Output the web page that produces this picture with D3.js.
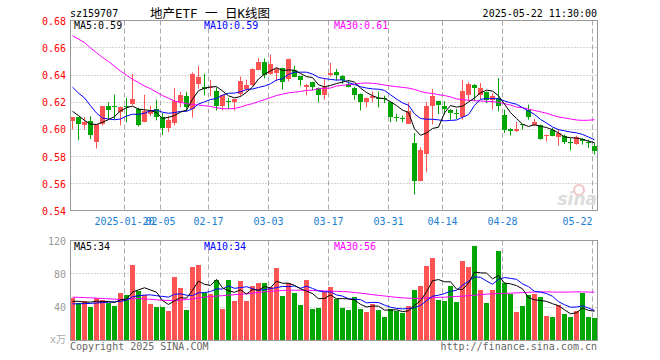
<!DOCTYPE html>
<html>
<head>
<meta charset="utf-8">
<script src="https://cdn.jsdelivr.net/npm/d3@7"></script>
<style>
body { margin: 0; background: #fff; }
svg { display: block; }
text { font-family: "DejaVu Sans Mono", monospace; font-size: 10px; }
</style>
</head>
<body>
<svg id="chart"></svg>
<script>
// trading days shown on the chart
let dates = [
  "01-07","01-08","01-09","01-10","01-13","01-14","01-15","01-16","01-17","01-20",
  "01-21","01-22","01-23","01-24","01-27","02-05","02-06","02-07","02-10","02-11",
  "02-12","02-13","02-14","02-17","02-18","02-19","02-20","02-21","02-24","02-25",
  "02-26","02-27","02-28","03-03","03-04","03-05","03-06","03-07","03-10","03-11",
  "03-12","03-13","03-14","03-17","03-18","03-19","03-20","03-21","03-24","03-25",
  "03-26","03-27","03-28","03-31","04-01","04-02","04-03","04-07","04-08","04-09",
  "04-10","04-11","04-14","04-15","04-16","04-17","04-18","04-21","04-22","04-23",
  "04-24","04-25","04-28","04-29","04-30","05-06","05-07","05-08","05-09","05-12",
  "05-13","05-14","05-15","05-16","05-19","05-20","05-21","05-22"
];

let open = [
  0.606,0.609,0.6035,0.606,0.5905,0.604,0.617,0.617,0.6126,0.617,
  0.6185,0.615,0.6058,0.6114,0.6153,0.609,0.6013,0.6045,0.6197,0.6249,
  0.615,0.6337,0.6312,0.6305,0.6285,0.6175,0.621,0.620,0.6263,0.6298,
  0.633,0.644,0.650,0.641,0.6418,0.6452,0.637,0.6435,0.6391,0.6312,
  0.6347,0.6307,0.6256,0.6398,0.642,0.6396,0.6334,0.6305,0.6263,0.620,
  0.6232,0.6235,0.6232,0.620,0.6092,0.6087,0.6043,0.590,0.5624,0.5822,
  0.6175,0.6207,0.617,0.6146,0.6119,0.6092,0.6256,0.633,0.6254,0.6276,
  0.6214,0.6232,0.611,0.6006,0.5989,0.6038,0.6146,0.6036,0.6031,0.5957,
  0.5994,0.5945,0.5955,0.5911,0.5896,0.593,0.5908,0.5881
];
let high = [
  0.609,0.609,0.609,0.6097,0.604,0.617,0.620,0.6256,0.617,0.6232,
  0.641,0.616,0.6256,0.6175,0.6219,0.6121,0.610,0.6305,0.6278,0.6278,
  0.642,0.6469,0.641,0.6366,0.631,0.6255,0.6232,0.6225,0.639,0.6366,
  0.645,0.6525,0.6523,0.6552,0.6455,0.6455,0.652,0.6469,0.6395,0.6335,
  0.635,0.631,0.6378,0.649,0.6445,0.640,0.636,0.6315,0.6265,0.6235,
  0.628,0.628,0.6249,0.6205,0.6114,0.6102,0.620,0.5974,0.5869,0.620,
  0.6298,0.621,0.6207,0.615,0.6151,0.6366,0.6347,0.6335,0.6342,0.628,
  0.6265,0.6378,0.6146,0.601,0.6055,0.6038,0.6183,0.6077,0.6035,0.5962,
  0.6011,0.6004,0.5962,0.5937,0.5955,0.5935,0.5925,0.590
];
let low = [
  0.600,0.592,0.600,0.593,0.586,0.603,0.6072,0.6077,0.603,0.6053,
  0.618,0.6023,0.6053,0.6097,0.6067,0.596,0.598,0.603,0.6165,0.6134,
  0.6087,0.630,0.6251,0.6244,0.614,0.614,0.6151,0.614,0.6244,0.6278,
  0.6322,0.6435,0.6376,0.6403,0.6356,0.6293,0.6354,0.6385,0.6322,0.6251,
  0.6288,0.620,0.6219,0.639,0.6361,0.6334,0.631,0.6219,0.614,0.6163,
  0.620,0.6163,0.6195,0.6053,0.6058,0.6053,0.604,0.5521,0.562,0.5685,
  0.6036,0.6114,0.611,0.6072,0.6077,0.6072,0.6212,0.6212,0.6219,0.6195,
  0.6146,0.6134,0.5974,0.5955,0.5981,0.5999,0.6072,0.6023,0.5925,0.5913,
  0.595,0.5881,0.5893,0.5847,0.5889,0.5889,0.5864,0.5815
];
let close = [
  0.609,0.604,0.6055,0.5957,0.6043,0.617,0.614,0.6165,0.6165,0.6163,
  0.6227,0.603,0.6138,0.6138,0.6092,0.601,0.6067,0.6212,0.6256,0.6168,
  0.641,0.6383,0.6298,0.631,0.6175,0.6251,0.6205,0.6222,0.6359,0.633,
  0.6447,0.650,0.640,0.6479,0.6447,0.6347,0.6518,0.639,0.6361,0.633,
  0.6312,0.6253,0.6312,0.6415,0.6398,0.6366,0.6312,0.6251,0.620,0.6232,
  0.6249,0.6228,0.6225,0.609,0.6087,0.6085,0.6138,0.5624,0.5852,0.6175,
  0.6249,0.6183,0.6153,0.6121,0.6116,0.6285,0.6337,0.6303,0.6305,0.6219,
  0.6249,0.617,0.5994,0.5989,0.6006,0.6034,0.609,0.6055,0.5933,0.596,
  0.5955,0.5974,0.5906,0.5903,0.5945,0.5913,0.5905,0.5845
];
// volume in 万 lots
let volume = [
  51.2,45.2,48,40.4,51.2,49.2,45.2,42,57.2,54.4,
  91.2,59.2,54.4,44,40.8,40.8,36,76.4,63.2,37.2,
  88.4,91.2,57.2,56.4,73.2,38.4,73.2,48,71.2,48,
  65.2,69.6,69.6,64,87.2,53.2,69.6,57.2,43.2,72.8,
  38.4,39.2,58.6,64.4,50,39.2,37.2,52.4,38,34.4,
  44.4,37.2,28.4,38.4,36,33.2,42,61.2,66,90,
  99.2,49.2,48,66,46.4,96,88.4,114,61.2,45.2,
  61.2,108,69.2,56.4,34.4,42,55.2,56.4,52,29.2,
  28,43.2,32,28,35.2,57.2,28.4,27.2
];

// averages at the left edge (their windows start before the first day shown)
let ma5Head = [0.6134, 0.6102, 0.6067, 0.604];
let ma10Head = [0.6312, 0.6268, 0.6232, 0.6175, 0.6121, 0.6084, 0.6077, 0.6072, 0.6077];
let ma30 = [
  0.669,0.6665,0.664,0.660,0.6565,0.653,0.650,0.6465,0.643,0.640,
  0.637,0.6345,0.632,0.630,0.6275,0.625,0.623,0.621,0.620,0.619,
  0.6185,0.618,0.6175,0.617,0.616,0.6153,0.6152,0.6155,0.6165,0.618,
  0.619,0.6205,0.622,0.6235,0.625,0.626,0.627,0.6275,0.628,0.6288,
  0.629,0.630,0.6302,0.6305,0.632,0.6325,0.633,0.6334,0.634,0.6342,
  0.634,0.6335,0.6327,0.632,0.6315,0.631,0.6305,0.6295,0.628,0.627,
  0.6265,0.6256,0.625,0.624,0.6225,0.622,0.6215,0.6212,0.621,0.6207,
  0.6205,0.620,0.619,0.618,0.6165,0.616,0.615,0.614,0.613,0.612,
  0.6105,0.6092,0.6085,0.6077,0.607,0.6067,0.6068,0.6072
];
let vma5Head = [47, 47, 46, 46];
let vma10Head = [44, 44, 44.3, 44.5, 45, 45.5, 46, 46.5, 47];
let vma30 = [
  52,51.8,51.5,51.2,50.8,50.3,50,49.6,49.2,49.5,
  50,50.4,50,49.4,48.8,48.4,48,48,48.6,49.2,
  50,51.2,52,52.8,53.2,53.8,54.4,55,55.5,56,
  56.8,57.6,58.4,59,59.6,60,60.2,60.4,60.4,60.2,
  60,59.8,59.5,59.2,59,58.8,58.4,57.6,56.8,56,
  55,54.2,53.4,52.6,51.8,51.2,50.8,50.4,50.6,51.2,
  51.5,51.8,52,52.4,52.8,53.2,53.8,54.4,55,55.6,
  56,56.4,56.6,56.8,57.2,57.5,57.8,58.2,58.4,58.4,
  58.2,58,58,58.2,58.4,58.3,58.1,58
];

let tickDates = ["01-20","02-05","02-17","03-03","03-17","03-31","04-14","04-28","05-22"];
let tickLabels = ["2025-01-20","02-05","02-17","03-03","03-17","03-31","04-14","04-28","05-22"];
let priceTicks = [0.68, 0.66, 0.64, 0.62, 0.60, 0.58, 0.56, 0.54];
let volTicks = [120, 80, 40];

let width = 660;
let height = 360;
let left = 70.5, right = 597.5;

let red = "#ff5454";
let green = "#00a600";
let gridColor = "#aaa";

let svg = d3.select("#chart").attr("width", width).attr("height", height);

let xScale = d3.scaleBand().domain(dates).range([69.5, 597.5]);
let cx = (d) => xScale(d) + 3;

let yScale = d3.scaleLinear().domain([0.54, 0.68]).range([211, 20.8]);
let vScale = d3.scaleLinear().domain([0, 120]).range([340.5, 240.5]);

let movingAvg = (arr, n, head) => arr.map((v, i) => {
    if (i < n - 1) return head[i];
    return d3.mean(arr.slice(i - n + 1, i + 1));
});

let ma5 = movingAvg(close, 5, ma5Head);
let ma10 = movingAvg(close, 10, ma10Head);
let vma5 = movingAvg(volume, 5, vma5Head);
let vma10 = movingAvg(volume, 10, vma10Head);

let crisp = (y) => Math.floor(y) + 0.5;

let drawGrid = (top, bottom, scale, ticks) => {
    ticks.forEach((t) => {
        let y = crisp(scale(t));
        if (y <= top + 1 || y >= bottom - 1) return;
        svg.append("line")
            .attr("x1", left).attr("x2", right)
            .attr("y1", y).attr("y2", y)
            .attr("stroke", gridColor)
            .attr("stroke-dasharray", "1,2");
    });
    tickDates.forEach((d) => {
        let x = xScale(d) + 1;
        svg.append("line")
            .attr("x1", x).attr("x2", x)
            .attr("y1", top).attr("y2", bottom)
            .attr("stroke", gridColor)
            .attr("stroke-dasharray", "5,3");
    });
};

let drawFrame = (top, bottom) => {
    svg.append("rect")
        .attr("x", left).attr("y", top)
        .attr("width", right - left).attr("height", bottom - top)
        .attr("fill", "none")
        .attr("stroke", "#999");
};

// ---------- price panel ----------
drawGrid(20.5, 210.5, yScale, priceTicks);

// sina watermark
svg.append("circle")
    .attr("cx", 579).attr("cy", 190).attr("r", 5)
    .attr("fill", "none").attr("stroke", "#f3c4c4").attr("stroke-width", 2);
svg.append("text")
    .attr("x", 597).attr("y", 205)
    .attr("text-anchor", "end")
    .style("font-family", "DejaVu Sans")
    .style("font-size", "17px")
    .style("font-style", "italic")
    .style("font-weight", "bold")
    .attr("fill", "#dcdcdc")
    .text("sina");

let candles = svg.append("g");
let up = (i) => close[i] >= open[i];

candles.selectAll(".wick")
    .data(dates)
    .enter()
    .append("line")
    .attr("class", "wick")
    .attr("x1", (d) => cx(d)).attr("x2", (d) => cx(d))
    .attr("y1", (d, i) => yScale(high[i]))
    .attr("y2", (d, i) => yScale(low[i]))
    .attr("stroke", (d, i) => up(i) ? red : green);

candles.selectAll(".body")
    .data(dates)
    .enter()
    .append("rect")
    .attr("class", "body")
    .attr("x", (d) => cx(d) - 2.5)
    .attr("width", 5)
    .attr("y", (d, i) => Math.round(yScale(Math.max(open[i], close[i]))))
    .attr("height", (d, i) => Math.max(1,
        Math.round(yScale(Math.min(open[i], close[i]))) - Math.round(yScale(Math.max(open[i], close[i])))))
    .attr("fill", (d, i) => up(i) ? red : green);

let drawLine = (values, scale, color) => {
    let line = d3.line()
        .x((v, i) => cx(dates[i]))
        .y((v) => scale(v));
    svg.append("path")
        .datum(values)
        .attr("d", line)
        .attr("fill", "none")
        .attr("stroke", color)
        .attr("stroke-width", 1);
};

drawLine(ma30, yScale, "#ff00ff");
drawLine(ma10, yScale, "#0000ff");
drawLine(ma5, yScale, "#000000");

drawFrame(20.5, 210.5);

// price axis labels
svg.selectAll(".plabel")
    .data(priceTicks)
    .enter()
    .append("text")
    .attr("class", "plabel")
    .attr("x", 66)
    .attr("y", (d) => yScale(d) + 4)
    .attr("text-anchor", "end")
    .attr("fill", "#ff0000")
    .text((d) => d.toFixed(2));

// date labels
svg.selectAll(".xlabel")
    .data(tickDates)
    .enter()
    .append("text")
    .attr("class", "xlabel")
    .attr("x", (d) => xScale(d) + 1)
    .attr("y", 225)
    .attr("text-anchor", (d, i) => i === tickDates.length - 1 ? "end" : "middle")
    .attr("fill", "#1a7fd4")
    .text((d, i) => tickLabels[i]);

// legends
let legend = (y, labels) => {
    let xs = [74, 204, 334];
    let colors = ["#000000", "#0000ff", "#ff00ff"];
    labels.forEach((t, i) => {
        svg.append("text")
            .attr("x", xs[i]).attr("y", y)
            .attr("fill", colors[i])
            .text(t);
    });
};
legend(29, ["MA5:" + ma5[ma5.length - 1].toFixed(2), "MA10:" + ma10[ma10.length - 1].toFixed(2), "MA30:" + ma30[ma30.length - 1].toFixed(2)]);

// ---------- volume panel ----------
drawGrid(240.5, 340.5, vScale, volTicks);

svg.selectAll(".vol")
    .data(dates)
    .enter()
    .append("rect")
    .attr("class", "vol")
    .attr("x", (d) => cx(d) - 2.5)
    .attr("width", 5)
    .attr("y", (d, i) => Math.round(vScale(volume[i])))
    .attr("height", (d, i) => 341 - Math.round(vScale(volume[i])))
    .attr("fill", (d, i) => up(i) ? red : green);

drawLine(vma30, vScale, "#ff00ff");
drawLine(vma10, vScale, "#0000ff");
drawLine(vma5, vScale, "#000000");

drawFrame(240.5, 340.5);

svg.selectAll(".vlabel")
    .data(volTicks)
    .enter()
    .append("text")
    .attr("class", "vlabel")
    .attr("x", 66)
    .attr("y", (d) => vScale(d) + 4)
    .attr("text-anchor", "end")
    .attr("fill", "#999")
    .text((d) => d);

svg.append("text")
    .attr("x", 66).attr("y", 343)
    .attr("text-anchor", "end")
    .attr("fill", "#aaa")
    .style("font-family", "DejaVu Sans Mono, Noto Sans CJK SC")
    .text("x万");

legend(249.5, ["MA5:34", "MA10:34", "MA30:56"]);

// ---------- titles ----------
svg.append("text")
    .attr("x", 70).attr("y", 17)
    .attr("fill", "#000")
    .text("sz159707");

svg.append("text")
    .attr("x", 210).attr("y", 18)
    .attr("text-anchor", "middle")
    .attr("fill", "#000")
    .style("font-family", "DejaVu Sans Mono, Noto Sans CJK SC")
    .style("font-size", "12.5px")
    .text("地产ETF 一 日K线图");

svg.append("text")
    .attr("x", 597).attr("y", 17)
    .attr("text-anchor", "end")
    .attr("fill", "#000")
    .text("2025-05-22 11:30:00");

svg.append("text")
    .attr("x", 70).attr("y", 350)
    .attr("fill", "#666")
    .text("Copyright 2025 SINA.COM");

svg.append("text")
    .attr("x", 597).attr("y", 350)
    .attr("text-anchor", "end")
    .attr("fill", "#666")
    .text("http://finance.sina.com.cn");
</script>
</body>
</html>
